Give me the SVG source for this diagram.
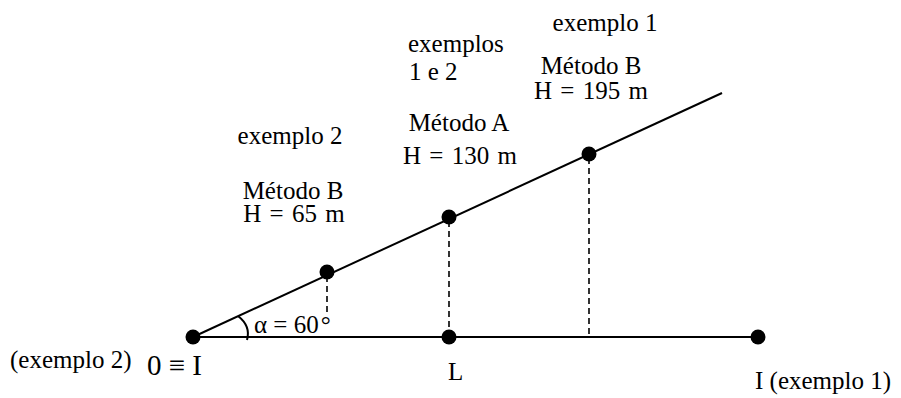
<svg xmlns="http://www.w3.org/2000/svg" width="901" height="398" viewBox="0 0 901 398">
<style>
  text { font-family: "Liberation Serif", "Times New Roman", serif; font-size: 25px; fill: #000; }
  .line { stroke: #000; stroke-width: 2; fill: none; }
  .dash { stroke: #000; stroke-width: 1.6; stroke-dasharray: 6 4; fill: none; }
  .dot { fill: #000; }
  .mid { text-anchor: middle; }
  .h { word-spacing: 2px; }
</style>
<rect width="901" height="398" fill="#fff"/>
<g id="connectors">
  <line class="line" x1="193" y1="337" x2="758" y2="337"/>
  <line class="line" x1="193" y1="337" x2="722" y2="93"/>
  <line class="dash" x1="327" y1="276" x2="327" y2="316"/>
  <line class="dash" x1="449" y1="221" x2="449" y2="335"/>
  <line class="dash" x1="589" y1="158" x2="589" y2="337"/>
  <path class="line" d="M 238 316 Q 251 326 247 340"/>
</g>
<g id="origin">
  <circle class="dot" cx="193" cy="337" r="7.5"/>
  <text x="10" y="368">(exemplo 2)</text>
  <text x="147" y="375" style="font-size:29px">0 ≡ I</text>
</g>
<g id="angle">
  <text x="254" y="333">α = 60<tspan dx="2">°</tspan></text>
</g>
<g id="pointL">
  <circle class="dot" cx="449" cy="337" r="7.5"/>
  <text x="448" y="380">L</text>
</g>
<g id="pointI1">
  <circle class="dot" cx="758" cy="337" r="7.5"/>
  <text x="755" y="389">I (exemplo 1)</text>
</g>
<g id="point65">
  <circle class="dot" cx="327" cy="272" r="7.5"/>
  <text class="mid" x="290" y="144">exemplo 2</text>
  <text class="mid" x="293" y="199">Método B</text>
  <text class="mid h" x="294" y="222">H = 65 m</text>
</g>
<g id="point130">
  <circle class="dot" cx="449" cy="217" r="7.5"/>
  <text x="408" y="52">exemplos</text>
  <text x="409" y="80">1 e 2</text>
  <text class="mid" x="459" y="131">Método A</text>
  <text class="mid h" x="460" y="164">H = 130 m</text>
</g>
<g id="point195">
  <circle class="dot" cx="589" cy="154" r="7.5"/>
  <text class="mid" x="605" y="31">exemplo 1</text>
  <text class="mid" x="591" y="74">Método B</text>
  <text class="mid h" x="591" y="99">H = 195 m</text>
</g>
</svg>
